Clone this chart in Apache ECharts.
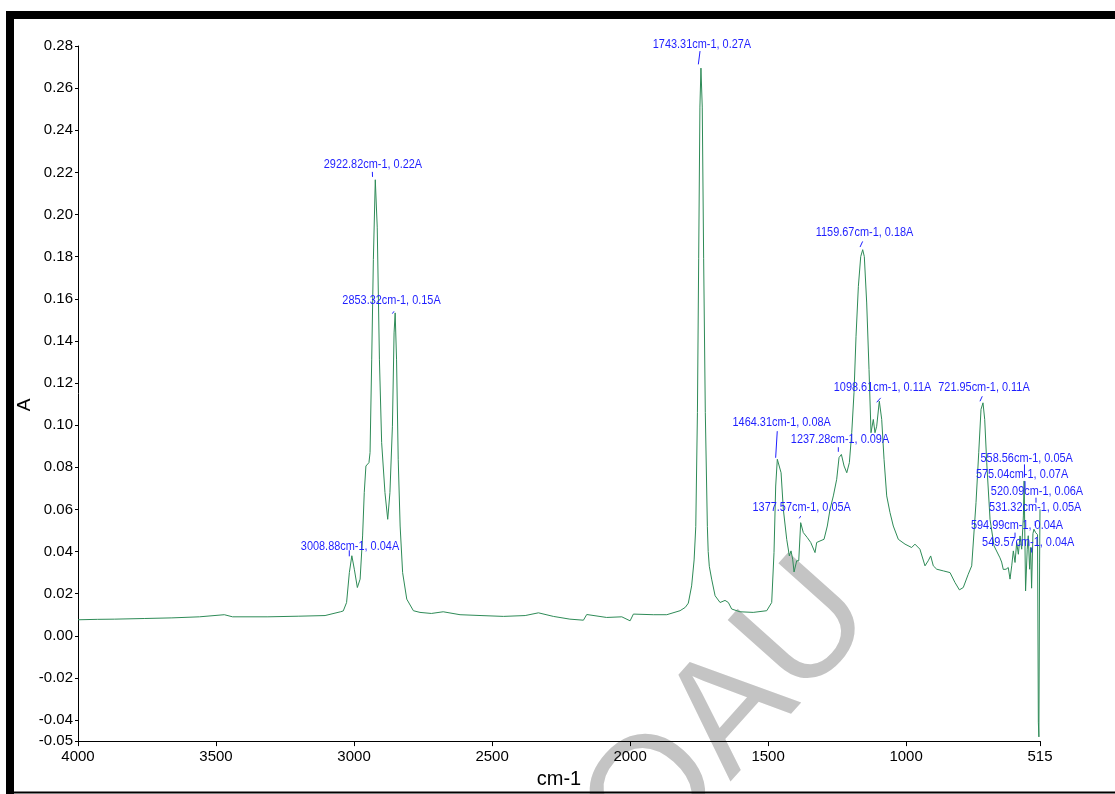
<!DOCTYPE html>
<html>
<head>
<meta charset="utf-8">
<script src="https://cdn.jsdelivr.net/npm/echarts@6/dist/echarts.min.js"></script>
<style>
  html, body { margin: 0; padding: 0; background: #fff; }
  #chart { width: 1115px; height: 794px; }
</style>
</head>
<body>
<div id="chart"></div>
<script>
// 光谱数据：波数 (cm-1) 与吸光度 (A)，从高波数到低波数
const wavenumbers = [
  4000, 3930, 3867, 3760, 3660, 3560, 3470, 3440, 3312, 3200, 3105, 3049, 3039, 3027, 3017,
  3008, 3004, 2999, 2988, 2978, 2969, 2963, 2957, 2946, 2942, 2936, 2930, 2923, 2916, 2908,
  2900, 2888, 2878, 2870, 2861, 2855, 2851, 2846, 2840, 2833, 2824, 2809, 2785, 2761, 2720,
  2677, 2616, 2540, 2459, 2380, 2332, 2278, 2218, 2169, 2157, 2085, 2030, 2000, 1988, 1916,
  1867, 1819, 1800, 1789, 1777, 1768, 1762, 1756, 1751.5, 1747, 1743.3, 1738.5, 1733.5, 1727.5, 1720,
  1717, 1713, 1704.5, 1692, 1674, 1656, 1644, 1632, 1602, 1554, 1505, 1487, 1478.6, 1472.5, 1466.6,
  1459.4, 1453, 1444.8, 1432.6, 1423, 1417, 1411, 1406, 1396.4, 1389, 1382, 1377.1, 1372.5, 1358, 1345.6,
  1330, 1324, 1312, 1297.4, 1285.5, 1275.7, 1263.7, 1251.5, 1243, 1234.5, 1224.8, 1215, 1205.6, 1197, 1188.8,
  1181.5, 1173, 1164.5, 1157.3, 1151.4, 1142.8, 1134.4, 1127.2, 1118.8, 1112.7, 1106.6, 1097.1, 1088.4, 1080, 1070.3,
  1058.4, 1046.4, 1028.3, 1004, 980, 968, 950, 931.6, 920, 911, 901.5, 889, 865, 841, 823,
  807, 793, 775, 762.4, 746.8, 737, 728.7, 721.5, 715.3, 708, 696, 681.6, 660, 654, 648,
  638, 630, 623.6, 617.5, 611.6, 605.5, 599.4, 593.4, 587.3, 581.3, 575.2, 572.5, 567.3, 561.3, 557.6,
  552.6, 549, 545.4, 540.6, 537, 531, 524, 521, 519, 516.5, 515
];
const absorbance = [
  0.0076, 0.0078, 0.0079, 0.0082, 0.0085, 0.0090, 0.0100, 0.0090, 0.0090, 0.0093, 0.0096, 0.0114, 0.0118, 0.0158, 0.0300,
  0.0380, 0.0372, 0.0316, 0.0229, 0.0269, 0.0474, 0.0680, 0.0806, 0.0822, 0.0870, 0.1310, 0.1786, 0.2165, 0.1940, 0.1310,
  0.0917, 0.0680, 0.0553, 0.0680, 0.0995, 0.1438, 0.1533, 0.1310, 0.0838, 0.0521, 0.0300, 0.0174, 0.0119, 0.0111, 0.0106,
  0.0114, 0.0100, 0.0096, 0.0092, 0.0096, 0.0109, 0.0092, 0.0079, 0.0074, 0.0101, 0.0087, 0.0090, 0.0071, 0.0103, 0.0100,
  0.0100, 0.0119, 0.0135, 0.0155, 0.0237, 0.0360, 0.0518, 0.1060, 0.1790, 0.2510, 0.2695, 0.2510, 0.1790, 0.1060, 0.0518,
  0.0400, 0.0330, 0.0269, 0.0190, 0.0158, 0.0168, 0.0158, 0.0127, 0.0114, 0.0111, 0.0119, 0.0158, 0.0395, 0.0711, 0.0838,
  0.0830, 0.0774, 0.0600, 0.0458, 0.0379, 0.0403, 0.0364, 0.0303, 0.0356, 0.0356, 0.0537, 0.0545, 0.0490, 0.0466, 0.0443,
  0.0395, 0.0443, 0.0450, 0.0458, 0.0521, 0.0600, 0.0664, 0.0743, 0.0846, 0.0861, 0.0806, 0.0774, 0.0822, 0.0964, 0.1154,
  0.1422, 0.1659, 0.1800, 0.1833, 0.1800, 0.1580, 0.1264, 0.0964, 0.1027, 0.0964, 0.0995, 0.1114, 0.1027, 0.0838, 0.0664,
  0.0585, 0.0521, 0.0458, 0.0435, 0.0419, 0.0435, 0.0411, 0.0332, 0.0356, 0.0379, 0.0332, 0.0316, 0.0308, 0.0300, 0.0253,
  0.0218, 0.0229, 0.0292, 0.0332, 0.0632, 0.0869, 0.1075, 0.1106, 0.1027, 0.0822, 0.0553, 0.0427, 0.0370, 0.0350, 0.0315,
  0.0316, 0.0324, 0.0269, 0.0332, 0.0403, 0.0348, 0.0443, 0.0387, 0.0474, 0.0411, 0.0569, 0.0735, 0.0213, 0.0411, 0.0475,
  0.0316, 0.0419, 0.0226, 0.0485, 0.0506, 0.0490, 0.0480, -0.0410, -0.0480, 0.0350, 0.0600
];

// 峰位标注
const peakWn = [3008.88, 2922.82, 2853.32, 1743.31, 1464.31, 1377.57, 1237.28, 1159.67, 1098.61, 721.95, 594.99, 575.04, 558.56, 549.57, 531.32, 520.09];
const peakA = [0.04, 0.22, 0.15, 0.27, 0.08, 0.05, 0.09, 0.18, 0.11, 0.11, 0.04, 0.07, 0.05, 0.04, 0.05, 0.06];

// 刻度
const xTicks = [4000, 3500, 3000, 2500, 2000, 1500, 1000, 515];
const yTicks = [-0.05, -0.04, -0.02, 0, 0.02, 0.04, 0.06, 0.08, 0.10, 0.12, 0.14, 0.16, 0.18, 0.20, 0.22, 0.24, 0.26, 0.28];

// 标注排版：文字中心偏移 [dx, dy]，引线 [x1, y1, x2, y2]（像素，相对峰位点）
const labelLayout = [
  [-1.6, -4.7, -2.3, -1.2, -2.3, 4.8],
  [-2.4, -8, -3, -0.5, -2.8, 4.5],
  [-3, -19, -2.2, -6.2, -0.5, -8.5],
  [1, -23, -2.6, -2.7, -0.9, -16],
  [3.7, -44.8, -0.7, -36.1, -2.3, -9.5],
  [-0.2, -23.1, -2.6, -12.1, -1.2, -14.4],
  [-0.6, -6.7, -2.3, 1, -2.3, 5.6],
  [2.5, -23.9, -2, -9.6, 0.6, -15.2],
  [3.6, -16.5, -2.2, -1.8, 1.8, -6.2],
  [1.1, -16.5, -2.9, -2.8, -0.6, -7.8],
  [-0.9, -26.5, -2.9, -18.9, -2.9, -13.9],
  [-1.4, -13.9, 1.6, -7.2, 1.6, 1.1],
  [-1.3, -72.1, -3.5, -66.1, -3.5, -53.1],
  [-2.2, -8.9, 1.2, -4, 1.2, 1],
  [-0.3, -23.4, -0.3, -9.4, -0.3, -4.4],
  [-1.6, -18.3, -2.6, -11.7, -2.6, -6.7]
];

const SANS = "'Liberation Sans', Arial, sans-serif";
const BLUE = "#1f1fff";

const spectrum = wavenumbers.map((w, i) => [w, absorbance[i]]);
const peaks = peakWn.map((w, i) => [w, peakA[i], i]);

const chart = echarts.init(document.getElementById("chart"), null, { renderer: "canvas" });
chart.setOption({
  animation: false,
  backgroundColor: "#fff",
  grid: { left: 78, right: 75, top: 46, bottom: 52 },
  xAxis: {
    type: "value", inverse: true, min: 515, max: 4000,
    name: "cm-1", nameLocation: "middle", nameGap: 23,
    nameTextStyle: { color: "#000", fontSize: 20, fontFamily: SANS },
    axisLine: { onZero: false, lineStyle: { color: "#000", width: 1 } },
    axisTick: { length: 5, customValues: xTicks, lineStyle: { color: "#000" } },
    axisLabel: {
      customValues: xTicks, margin: 8, color: "#000", fontSize: 15, fontFamily: SANS,
      formatter: (v) => String(v)
    },
    splitLine: { show: false }
  },
  yAxis: {
    type: "value", min: -0.05, max: 0.28,
    axisLine: { show: true, lineStyle: { color: "#000", width: 1 } },
    axisTick: { show: true, length: 3, customValues: yTicks, lineStyle: { color: "#000" } },
    axisLabel: {
      customValues: yTicks, margin: 5, color: "#000", fontSize: 15, fontFamily: SANS,
      formatter: (v) => v.toFixed(2)
    },
    splitLine: { show: false }
  },
  series: [
    {
      type: "line", data: spectrum, showSymbol: false, silent: true,
      lineStyle: { color: "#2e8b57", width: 1 }, z: 3
    },
    {
      type: "custom", data: peaks, clip: false, silent: true, z: 4,
      renderItem: (params, api) => {
        const i = api.value(2);
        const p = api.coord([api.value(0), api.value(1)]);
        const o = labelLayout[i];
        return {
          type: "group",
          children: [
            {
              type: "line",
              shape: { x1: p[0] + o[2], y1: p[1] + o[3], x2: p[0] + o[4], y2: p[1] + o[5] },
              style: { stroke: BLUE, lineWidth: 1 }
            },
            {
              type: "text",
              x: p[0] + o[0], y: p[1] + o[1], scaleX: 0.84,
              style: {
                x: 0, y: 0,
                text: peakWn[i].toFixed(2) + "cm-1, " + peakA[i].toFixed(2) + "A",
                fill: BLUE, font: "13px " + SANS,
                textAlign: "center", textVerticalAlign: "middle"
              }
            }
          ]
        };
      }
    }
  ],
  graphic: [
    // 水印
    {
      type: "text", x: 730, y: 716, rotation: 0.84, z: -1, silent: true,
      style: { text: "OAU", fill: "#c4c4c4", font: "160px " + SANS, textAlign: "center", textVerticalAlign: "middle" }
    },
    // Y 轴标题
    {
      type: "text", x: 24.5, y: 405, rotation: Math.PI / 2, silent: true,
      style: { text: "A", fill: "#000", font: "19px " + SANS, textAlign: "center", textVerticalAlign: "middle" }
    },
    // 外框
    { type: "rect", silent: true, shape: { x: 6, y: 11, width: 1109, height: 8 }, style: { fill: "#000" } },
    { type: "rect", silent: true, shape: { x: 6, y: 11, width: 8, height: 783 }, style: { fill: "#000" } },
    { type: "rect", silent: true, shape: { x: 6, y: 791.5, width: 1109, height: 2 }, style: { fill: "#000" } }
  ]
});
</script>
</body>
</html>
